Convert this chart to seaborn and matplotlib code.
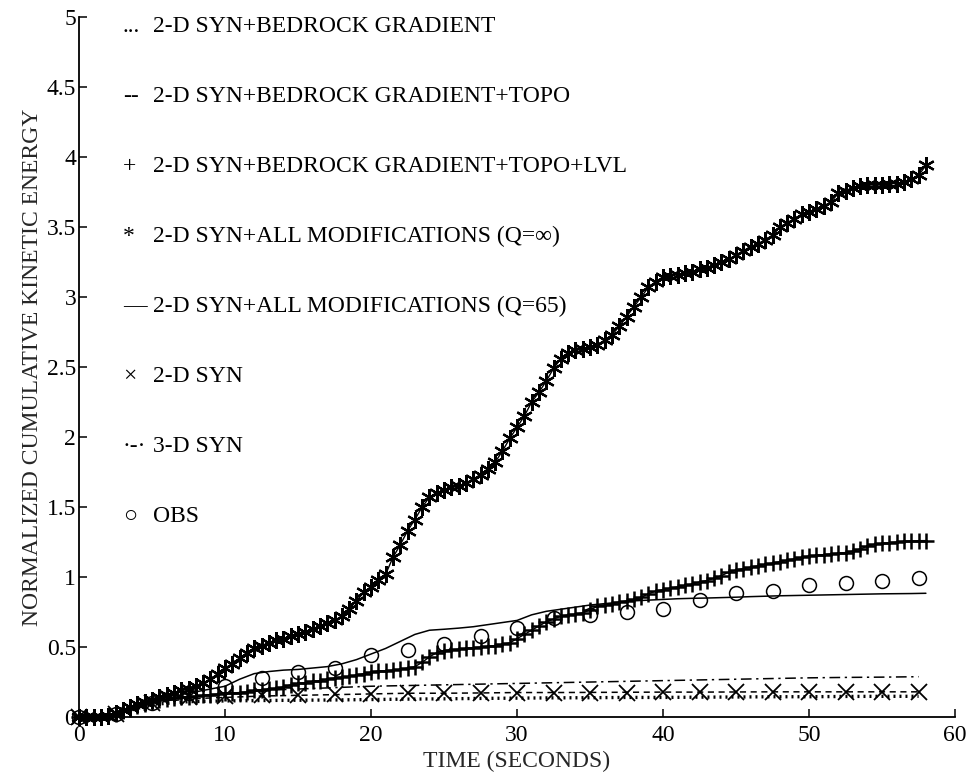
import numpy as np
import pandas as pd
import matplotlib
matplotlib.use("Agg")
import matplotlib.pyplot as plt
import seaborn as sns

# time grids (seconds)
t_fine = np.arange(0, 58.5, 0.5)        # 0 .. 58, every 0.5 s
t_line = np.arange(0, 59, 1.0)          # 0 .. 58, every 1 s
t_coarse = np.arange(0, 60, 2.5)        # 0 .. 57.5, every 2.5 s

# 2-D SYN + all modifications (Q = inf), asterisks
q_inf = [0, 0, 0, 0, 0.01, 0.03, 0.05, 0.07, 0.09, 0.11,
         0.12, 0.14, 0.16, 0.17, 0.19, 0.2, 0.22, 0.24, 0.27, 0.31,
         0.35, 0.38, 0.42, 0.46, 0.49, 0.51, 0.53, 0.55, 0.56, 0.58,
         0.59, 0.61, 0.63, 0.65, 0.67, 0.69, 0.72, 0.77, 0.83, 0.89,
         0.93, 0.98, 1.02, 1.14, 1.23, 1.33, 1.41, 1.5, 1.57, 1.6,
         1.62, 1.64, 1.65, 1.67, 1.7, 1.73, 1.77, 1.82, 1.9, 1.99,
         2.07, 2.15, 2.25, 2.32, 2.4, 2.49, 2.56, 2.6, 2.62, 2.63,
         2.64, 2.66, 2.69, 2.73, 2.79, 2.86, 2.93, 3.0, 3.07, 3.11,
         3.14, 3.15, 3.16, 3.17, 3.18, 3.2, 3.21, 3.23, 3.25, 3.27,
         3.3, 3.33, 3.36, 3.38, 3.41, 3.44, 3.5, 3.53, 3.56, 3.59,
         3.61, 3.63, 3.65, 3.68, 3.74, 3.76, 3.78, 3.79, 3.8, 3.8,
         3.8, 3.81, 3.81, 3.82, 3.84, 3.87, 3.94]

# 2-D SYN + bedrock gradient + topo + LVL, plus signs
topo_lvl = [0, 0, 0, 0, 0.005, 0.02, 0.04, 0.06, 0.08, 0.095,
            0.11, 0.12, 0.13, 0.135, 0.14, 0.145, 0.15, 0.155, 0.16, 0.165,
            0.17, 0.172, 0.175, 0.18, 0.19, 0.195, 0.2, 0.205, 0.215, 0.23,
            0.24, 0.245, 0.255, 0.26, 0.27, 0.28, 0.285, 0.29, 0.3, 0.31,
            0.32, 0.33, 0.33, 0.335, 0.34, 0.35, 0.36, 0.39, 0.43, 0.46,
            0.475, 0.48, 0.485, 0.49, 0.495, 0.5, 0.505, 0.51, 0.52, 0.53,
            0.56, 0.59, 0.62, 0.65, 0.68, 0.7, 0.72, 0.73, 0.735, 0.745,
            0.765, 0.79, 0.8, 0.81, 0.82, 0.83, 0.84, 0.855, 0.88, 0.9,
            0.91, 0.92, 0.93, 0.94, 0.95, 0.965, 0.975, 0.99, 1.01, 1.035,
            1.05, 1.06, 1.07, 1.08, 1.09, 1.1, 1.11, 1.12, 1.13, 1.14,
            1.15, 1.155, 1.16, 1.165, 1.17, 1.175, 1.185, 1.2, 1.22, 1.235,
            1.24, 1.245, 1.25, 1.255, 1.255, 1.26, 1.26]

# 2-D SYN + all modifications (Q = 65), solid line
q65 = [0, 0, 0, 0.03, 0.07, 0.1, 0.13, 0.16, 0.18, 0.2,
       0.22, 0.27, 0.31, 0.325, 0.335, 0.34, 0.35, 0.36, 0.38, 0.41,
       0.45, 0.49, 0.54, 0.59, 0.62, 0.627, 0.635, 0.645, 0.66, 0.675,
       0.69, 0.73, 0.755, 0.77, 0.785, 0.8, 0.81, 0.82, 0.83, 0.835,
       0.84, 0.845, 0.848, 0.85, 0.853, 0.856, 0.86, 0.863, 0.866, 0.868,
       0.87, 0.872, 0.874, 0.876, 0.878, 0.88, 0.881, 0.882, 0.884]

# 2.5 s sampled series
bedrock = [0, 0.02, 0.09, 0.11, 0.115, 0.118, 0.12, 0.122, 0.125, 0.128, 0.13, 0.133,
           0.135, 0.137, 0.138, 0.14, 0.14, 0.142, 0.143, 0.145, 0.145, 0.147, 0.148, 0.148]
topo = [0, 0.02, 0.1, 0.13, 0.14, 0.15, 0.155, 0.16, 0.165, 0.17, 0.17, 0.172,
        0.175, 0.175, 0.176, 0.177, 0.178, 0.178, 0.179, 0.18, 0.18, 0.18, 0.18, 0.18]
syn2d = [0, 0.02, 0.1, 0.14, 0.15, 0.155, 0.16, 0.165, 0.165, 0.17, 0.17, 0.175,
         0.175, 0.175, 0.175, 0.175, 0.18, 0.18, 0.18, 0.18, 0.18, 0.18, 0.18, 0.18]
syn3d = [0, 0.02, 0.1, 0.14, 0.16, 0.19, 0.2, 0.21, 0.22, 0.225, 0.23, 0.235,
         0.24, 0.245, 0.25, 0.255, 0.26, 0.265, 0.27, 0.275, 0.28, 0.283, 0.285, 0.288]
obs = [0, 0.02, 0.1, 0.17, 0.22, 0.28, 0.32, 0.35, 0.44, 0.48, 0.525, 0.58,
       0.635, 0.71, 0.73, 0.75, 0.775, 0.835, 0.885, 0.9, 0.94, 0.955, 0.975, 0.99]

legend_symbols = ["...", "--", "+", "*", "\u2014", "\u00d7", "\u00b7-\u00b7", "\u25cb"]
legend_labels = ["2-D SYN+BEDROCK GRADIENT",
                 "2-D SYN+BEDROCK GRADIENT+TOPO",
                 "2-D SYN+BEDROCK GRADIENT+TOPO+LVL",
                 "2-D SYN+ALL MODIFICATIONS (Q=\u221e)",
                 "2-D SYN+ALL MODIFICATIONS (Q=65)",
                 "2-D SYN",
                 "3-D SYN",
                 "OBS"]

sns.set_style("ticks")
plt.rcParams["font.family"] = ["Liberation Serif", "DejaVu Serif"]

fig = plt.figure(figsize=(9.67, 7.73), dpi=100)
ax = fig.add_axes([0.0817, 0.0724, 0.906, 0.9056])

k = "black"
sns.lineplot(x=t_coarse, y=bedrock, ax=ax, color=k, linewidth=2.4,
             linestyle=(0, (0.6, 1.2)), estimator=None, sort=False, clip_on=False)
sns.lineplot(x=t_coarse, y=topo, ax=ax, color=k, linewidth=1.1,
             linestyle=(0, (4, 3)), estimator=None, sort=False, clip_on=False)
sns.lineplot(x=t_coarse, y=syn3d, ax=ax, color=k, linewidth=1.1,
             linestyle=(0, (7, 3, 1.5, 3)), estimator=None, sort=False, clip_on=False)
sns.lineplot(x=t_line, y=q65, ax=ax, color=k, linewidth=1.1,
             estimator=None, sort=False, clip_on=False)
sns.lineplot(x=t_fine, y=topo_lvl, ax=ax, color=k, linewidth=1.0,
             marker="+", markersize=11, markeredgewidth=1.8, markeredgecolor=k,
             estimator=None, sort=False, clip_on=False)
sns.lineplot(x=t_fine, y=q_inf, ax=ax, color=k, linewidth=1.0,
             marker=(6, 2, 0), markersize=12, markeredgewidth=1.6, markeredgecolor=k,
             estimator=None, sort=False, clip_on=False)
sns.lineplot(x=t_coarse, y=syn2d, ax=ax, color=k, linestyle="none",
             marker="x", markersize=11, markeredgewidth=1.3, markeredgecolor=k,
             estimator=None, sort=False, clip_on=False)
sns.lineplot(x=t_coarse, y=obs, ax=ax, color=k, linestyle="none",
             marker="o", markersize=10, markerfacecolor="none", markeredgewidth=1.1,
             markeredgecolor=k, estimator=None, sort=False, clip_on=False)

# text legend down the left side
for i, (sym, lab) in enumerate(zip(legend_symbols, legend_labels)):
    yy = 4.93 - 0.5 * i
    ax.text(3.0, yy, sym, ha="left", va="center", fontsize=17, color=k)
    ax.text(5.05, yy, lab, ha="left", va="center", fontsize=17, color=k)

ax.set_xlim(0, 60)
ax.set_ylim(0, 5)
ax.set_xticks([0, 10, 20, 30, 40, 50, 60])
ax.set_xticklabels(["0", "10", "20", "30", "40", "50", "60"])
ax.set_yticks([0, 0.5, 1, 1.5, 2, 2.5, 3, 3.5, 4, 4.5, 5])
ax.set_yticklabels(["0", "0.5", "1", "1.5", "2", "2.5", "3", "3.5", "4", "4.5", "5"])
ax.tick_params(direction="in", length=6, width=1.1, labelsize=17, colors=k)
ax.tick_params(axis="x", pad=6)
ax.tick_params(axis="y", pad=2)
ax.set_xlabel("TIME (SECONDS)", fontsize=17, labelpad=3)
ax.set_ylabel("NORMALIZED CUMULATIVE KINETIC ENERGY", fontsize=17, labelpad=3)
for side in ["top", "right"]:
    ax.spines[side].set_visible(False)
for side in ["left", "bottom"]:
    ax.spines[side].set_linewidth(1.3)
    ax.spines[side].set_color(k)

fig.savefig("out.png", dpi=100)
